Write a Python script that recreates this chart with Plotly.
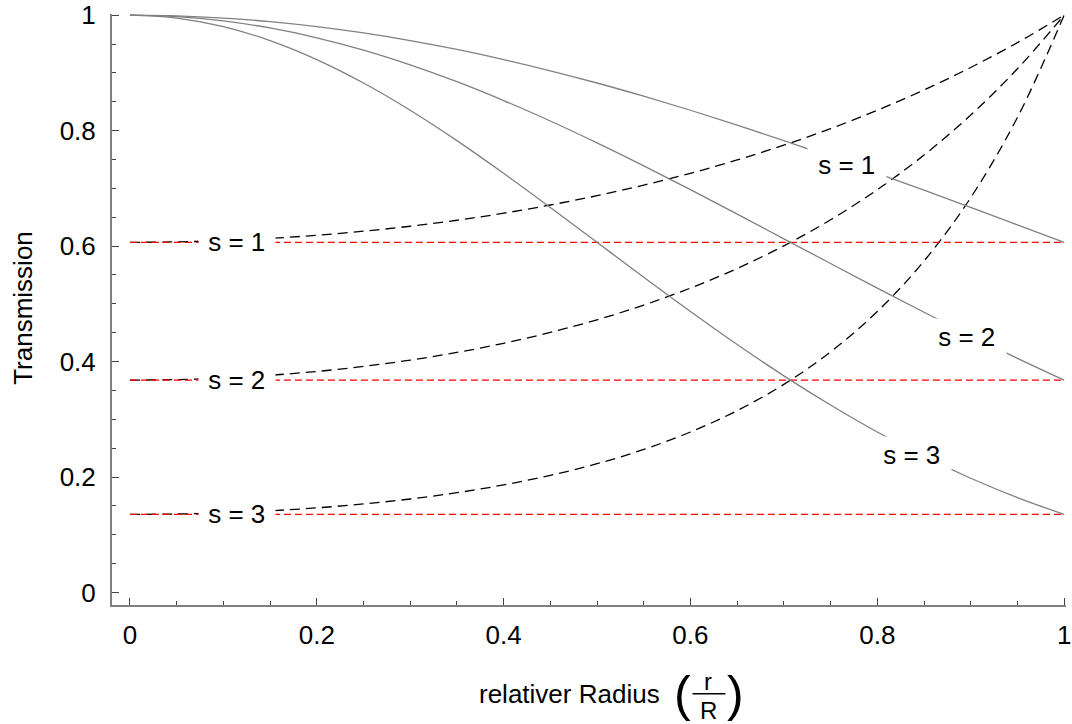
import plotly.graph_objects as go

# ---------------- data ----------------
r = [0.00, 0.05, 0.10, 0.15, 0.20, 0.25, 0.30, 0.35, 0.40, 0.45, 0.50,
     0.55, 0.60, 0.65, 0.70, 0.75, 0.80, 0.85, 0.90, 0.95, 1.00]

# solid grey curves (falling)
fall_s1 = [1.000, 0.9988, 0.9950, 0.9888, 0.9802, 0.9692, 0.9560, 0.9406, 0.9231, 0.9037, 0.8825,
           0.8596, 0.8353, 0.8096, 0.7827, 0.7548, 0.7261, 0.6968, 0.6670, 0.6368, 0.6065]
fall_s2 = [1.000, 0.9975, 0.9900, 0.9778, 0.9608, 0.9394, 0.9139, 0.8847, 0.8521, 0.8167, 0.7788,
           0.7390, 0.6977, 0.6554, 0.6126, 0.5698, 0.5273, 0.4855, 0.4449, 0.4056, 0.3679]
fall_s3 = [1.000, 0.9950, 0.9802, 0.9560, 0.9231, 0.8825, 0.8353, 0.7827, 0.7261, 0.6670, 0.6065,
           0.5461, 0.4868, 0.4296, 0.3753, 0.3247, 0.2780, 0.2357, 0.1979, 0.1645, 0.1353]

# black dashed curves (rising)
rise_s1 = [0.6065, 0.6073, 0.6096, 0.6134, 0.6188, 0.6258, 0.6344, 0.6448, 0.6570, 0.6712, 0.6873,
           0.7056, 0.7261, 0.7492, 0.7749, 0.8035, 0.8353, 0.8704, 0.9094, 0.9524, 1.000]
rise_s2 = [0.3679, 0.3688, 0.3716, 0.3763, 0.3829, 0.3916, 0.4025, 0.4158, 0.4317, 0.4505, 0.4724,
           0.4978, 0.5273, 0.5613, 0.6005, 0.6456, 0.6977, 0.7577, 0.8270, 0.9071, 1.000]
rise_s3 = [0.1353, 0.1360, 0.1381, 0.1416, 0.1466, 0.1534, 0.1620, 0.1729, 0.1864, 0.2029, 0.2231,
           0.2478, 0.2780, 0.3151, 0.3606, 0.4169, 0.4868, 0.5741, 0.6839, 0.8228, 1.000]

# red reference levels
level_x = [0.0, 1.0]
levels = [0.6065, 0.3679, 0.1353]

labels = ["s = 1", "s = 2", "s = 3"]
left_label_x = [0.1147, 0.1147, 0.1147]
fall_label_x = [0.7680, 0.8960, 0.8370]
fall_label_y = [0.740, 0.4424, 0.2381]

tick_vals = [0, 0.2, 0.4, 0.6, 0.8, 1]
tick_text = ["0", "0.2", "0.4", "0.6", "0.8", "1"]

x_title = "relativer Radius"
y_title = "Transmission"

# ---------------- styling ----------------
FONT = "Liberation Sans, Arial, Helvetica, sans-serif"
FS = 26
GREY = "#808080"

fig = go.Figure()

for ys in (rise_s1, rise_s2, rise_s3):
    fig.add_trace(go.Scatter(x=r, y=ys, mode="lines", line_shape="spline",
                             line=dict(color="black", width=1.3, dash="10px,6px"),
                             hoverinfo="skip", showlegend=False))
for lv in levels:
    fig.add_trace(go.Scatter(x=level_x, y=[lv, lv], mode="lines",
                             line=dict(color="#ff0000", width=1.2, dash="7px,4px"),
                             hoverinfo="skip", showlegend=False))
for ys in (fall_s1, fall_s2, fall_s3):
    fig.add_trace(go.Scatter(x=r, y=ys, mode="lines", line_shape="spline",
                             line=dict(color=GREY, width=1.3),
                             hoverinfo="skip", showlegend=False))

annotations = []
for lab, lx, lv in zip(labels, left_label_x, levels):
    annotations.append(dict(x=lx, y=lv, xref="x", yref="y", text="\u00a0" + lab + "\u00a0",
                            showarrow=False, bgcolor="white", borderpad=2,
                            font=dict(family=FONT, size=FS, color="black"),
                            xanchor="center", yanchor="middle"))
for lab, lx, ly in zip(labels, fall_label_x, fall_label_y):
    annotations.append(dict(x=lx, y=ly, xref="x", yref="y", text="\u00a0" + lab + "\u00a0",
                            showarrow=False, bgcolor="white", borderpad=3,
                            font=dict(family=FONT, size=FS, color="black"),
                            xanchor="center", yanchor="middle"))

# axis titles (paper coordinates)
annotations += [
    dict(x=-0.0932, y=0.503, xref="paper", yref="paper", text=y_title, textangle=-90,
         showarrow=False, font=dict(family=FONT, size=FS, color="black"),
         xanchor="center", yanchor="middle"),
    dict(x=0.5760, y=-0.1508, xref="paper", yref="paper", text=x_title,
         showarrow=False, font=dict(family=FONT, size=FS, color="black"),
         xanchor="right", yanchor="middle"),
    dict(x=0.5980, y=-0.1500, xref="paper", yref="paper", text="(",
         showarrow=False, font=dict(family=FONT, size=50, color="black"),
         xanchor="center", yanchor="middle"),
    dict(x=0.6535, y=-0.1500, xref="paper", yref="paper", text=")",
         showarrow=False, font=dict(family=FONT, size=50, color="black"),
         xanchor="center", yanchor="middle"),
    dict(x=0.6252, y=-0.1290, xref="paper", yref="paper", text="r",
         showarrow=False, font=dict(family=FONT, size=24, color="black"),
         xanchor="center", yanchor="middle"),
    dict(x=0.6252, y=-0.1780, xref="paper", yref="paper", text="R",
         showarrow=False, font=dict(family=FONT, size=24, color="black"),
         xanchor="center", yanchor="middle"),
]

shapes = [dict(type="line", xref="paper", yref="paper", x0=0.6085, x1=0.6430,
               y0=-0.1500, y1=-0.1500, line=dict(color="black", width=1.5))]

axis_common = dict(
    showgrid=False, zeroline=False, showline=True, linecolor=GREY, linewidth=2,
    ticks="inside", ticklen=7, tickwidth=1.2, tickcolor="#444",
    tickvals=tick_vals, ticktext=tick_text, ticklabeloverflow="allow",
    automargin=False,
    tickfont=dict(family=FONT, size=FS, color="black"),
    minor=dict(ticks="inside", ticklen=4, tickwidth=1.2, tickcolor="#444",
               dtick=0.05, tick0=0, showgrid=False),
)

fig.update_layout(
    width=1072, height=724,
    margin=dict(l=112, r=6, t=14, b=119, autoexpand=False),
    paper_bgcolor="white", plot_bgcolor="white",
    xaxis=dict(range=[-0.0192, 1.002], ticklabelstandoff=6, **axis_common),
    yaxis=dict(range=[-0.0216, 1.002], ticklabelstandoff=9, **axis_common),
    annotations=annotations, shapes=shapes,
    showlegend=False,
)

fig.write_html("out.html")
